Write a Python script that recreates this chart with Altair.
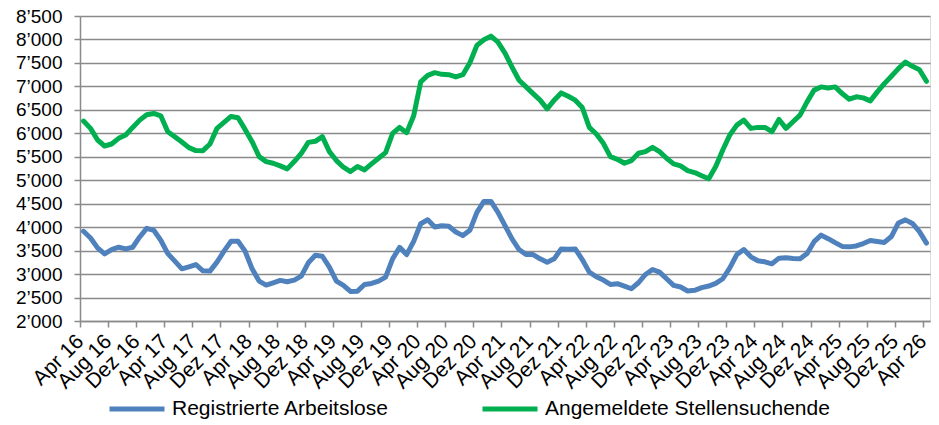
import altair as alt
import pandas as pd

tick_labels = ["Apr 16", "Aug 16", "Dez 16", "Apr 17", "Aug 17", "Dez 17",
               "Apr 18", "Aug 18", "Dez 18", "Apr 19", "Aug 19", "Dez 19",
               "Apr 20", "Aug 20", "Dez 20", "Apr 21", "Aug 21", "Dez 21",
               "Apr 22", "Aug 22", "Dez 22", "Apr 23", "Aug 23", "Dez 23",
               "Apr 24", "Aug 24", "Dez 24", "Apr 25", "Aug 25", "Dez 25",
               "Apr 26"]

# monthly index: 0 = Apr 2016 ... 120 = Apr 2026
month_index = list(range(121))

arbeitslose = [
    3912, 3770, 3558, 3431, 3523, 3572, 3537, 3572, 3791, 3975,
    3933, 3720, 3437, 3275, 3112, 3154, 3204, 3070, 3063, 3254,
    3488, 3700, 3700, 3488, 3112, 2850, 2766, 2815, 2865, 2837,
    2872, 2957, 3240, 3400, 3380, 3150, 2849, 2760, 2630, 2636,
    2778, 2800, 2849, 2934, 3324, 3570, 3415, 3698, 4073, 4157,
    4003, 4030, 4018, 3898, 3820, 3933, 4314, 4548, 4548, 4314,
    4031, 3749, 3523, 3416, 3416, 3325, 3254, 3325, 3537, 3530,
    3537, 3310, 3041, 2943, 2872, 2780, 2794, 2745, 2688, 2815,
    2992, 3098, 3041, 2900, 2759, 2724, 2640, 2654, 2710, 2745,
    2801, 2900, 3133, 3416, 3523, 3367, 3283, 3261, 3219, 3339,
    3346, 3332, 3325, 3438, 3690, 3830, 3755, 3670, 3590, 3580,
    3600, 3650, 3715, 3695, 3675, 3800, 4090, 4155, 4080, 3905,
    3660,
]

stellensuchende = [
    6260, 6105, 5857, 5730, 5772, 5893, 5963, 6126, 6281, 6395,
    6423, 6373, 6034, 5928, 5815, 5695, 5631, 5630, 5772, 6105,
    6232, 6359, 6331, 6083, 5822, 5503, 5397, 5362, 5305, 5242,
    5397, 5574, 5807, 5829, 5930, 5610, 5419, 5277, 5185, 5291,
    5221, 5348, 5468, 5588, 5998, 6126, 6013, 6373, 7095, 7236,
    7293, 7257, 7250, 7201, 7250, 7505, 7873, 7993, 8071, 7943,
    7710, 7413, 7130, 6989, 6847, 6706, 6522, 6706, 6861, 6790,
    6706, 6550, 6126, 5984, 5786, 5503, 5446, 5362, 5419, 5574,
    5610, 5702, 5610, 5468, 5348, 5305, 5206, 5164, 5094, 5030,
    5291, 5645, 5963, 6175, 6281, 6105, 6126, 6126, 6034, 6296,
    6105, 6246, 6388, 6670, 6920, 6989, 6967, 6989, 6847, 6727,
    6777, 6755, 6692, 6883, 7059, 7215, 7378, 7519, 7427, 7356,
    7109,
]

series_names = ["Registrierte Arbeitslose", "Angemeldete Stellensuchende"]
series_colors = ["#4F81BD", "#00B050"]
y_ticks = list(range(2000, 8501, 500))

df = pd.DataFrame({
    "m": month_index + month_index,
    "v": arbeitslose + stellensuchende,
    "s": [series_names[0]] * len(month_index) + [series_names[1]] * len(month_index),
})

x_tick_values = [-0.5 + 4 * k for k in range(len(tick_labels))]
js_labels = "[" + ",".join("'" + t + "'" for t in tick_labels) + "]"
x_label_expr = js_labels + "[round((datum.value + 0.5) / 4)]"
y_label_expr = "replace(format(datum.value, ','), ',', '\u2019')"

FONT = "Liberation Sans"
GRID = "#8a8a8a"

chart = alt.Chart(df).mark_line(
    strokeWidth=5, strokeCap="round", strokeJoin="round"
).encode(
    x=alt.X("m:Q",
            scale=alt.Scale(domain=[-0.5, 120.5], nice=False, zero=False),
            axis=alt.Axis(values=x_tick_values, labelExpr=x_label_expr,
                          labelAngle=-45, labelAlign="right", labelBaseline="middle",
                          grid=False, title=None, tickSize=6, tickColor=GRID,
                          domainColor=GRID, domainWidth=1.5, tickWidth=1.5,
                          labelFont=FONT, labelFontSize=21, labelColor="#000000",
                          labelPadding=11, labelOverlap=False, labelBound=False,
                          labelFlush=False)),
    y=alt.Y("v:Q",
            scale=alt.Scale(domain=[2000, 8500], nice=False, zero=False),
            axis=alt.Axis(values=y_ticks, labelExpr=y_label_expr, title=None,
                          grid=True, gridColor=GRID, gridWidth=1.5,
                          tickSize=6, tickColor=GRID, tickWidth=1.5,
                          domainColor=GRID, domainWidth=1.5,
                          labelFont=FONT, labelFontSize=19, labelColor="#000000",
                          labelPadding=12, labelOverlap=False)),
    color=alt.Color("s:N",
                    scale=alt.Scale(domain=series_names, range=series_colors),
                    legend=alt.Legend(title=None, orient="none", direction="horizontal",
                                      legendX=27, legendY=363, columns=2,
                                      columnPadding=82, padding=0,
                                      symbolType="stroke", symbolSize=3025,
                                      symbolStrokeWidth=5, labelOffset=5,
                                      labelFont=FONT, labelFontSize=21,
                                      labelColor="#000000", labelLimit=400)),
).properties(
    width=850, height=305,
    autosize=alt.AutoSizeParams(type="none"),
    padding={"left": 72, "top": 8, "right": 1, "bottom": 104},
).configure_view(stroke=None).configure(background="white")

chart.save("out.html", embed_options={"renderer": "svg", "actions": False})
